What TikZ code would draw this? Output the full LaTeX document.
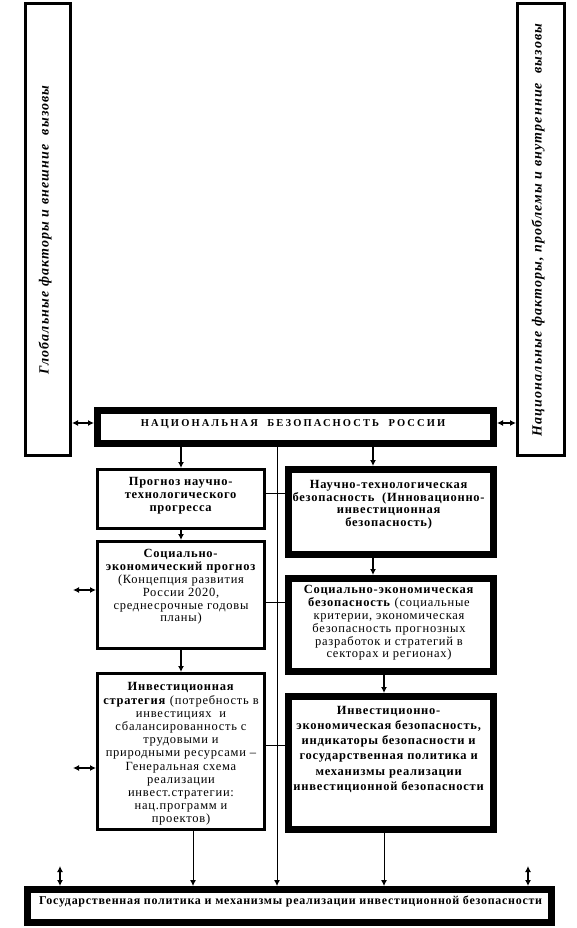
\documentclass[tikz,border=0pt]{standalone}
\usepackage{fontspec}
\setmainfont{Liberation Serif}
\newfontfamily\bfam[LetterSpace=6]{Liberation Serif}
\newfontfamily\nfam[LetterSpace=20]{Liberation Serif}
\newfontfamily\rfam[LetterSpace=8]{Liberation Serif}
\usetikzlibrary{arrows.meta}
\begin{document}
\begin{tikzpicture}[x=1pt,y=-1pt,
  thinbox/.style={draw, line width=2.7pt, inner sep=0pt, rectangle},
  thickbox/.style={draw, line width=7pt, inner sep=0pt, rectangle},
  txt/.style={align=center, inner sep=0pt, anchor=north, font=\bfam\fontsize{12.5}{12.8}\selectfont},
  rtxt/.style={rotate=90, inner sep=0pt, font=\rfam\bfseries\itshape\fontsize{14}{16}\selectfont},
  arr/.style={line width=1.5pt, -{Latex[length=6pt,width=6pt]}},
  longarr/.style={line width=0.9pt, -{Latex[length=6pt,width=6pt]}},
  darr/.style={line width=1.5pt, {Latex[length=6pt,width=6pt]}-{Latex[length=6pt,width=6pt]}},
  conn/.style={line width=0.9pt}]
\fill[white] (0,0) rectangle (577,928);
\useasboundingbox (0,0) rectangle (577,928);
% side boxes
\node[thinbox, minimum width=45.3pt, minimum height=452.3pt] (L) at (48,229.5) {};
\node[thinbox, minimum width=47.3pt, minimum height=452.3pt] (R) at (541,229.5) {};
\node[rtxt] (Lt) at (45,230) {Глобальные факторы и внешние\ \ вызовы};
\node[rtxt] (Rt) at (538,230) {Национальные факторы, проблемы и внутренние\ \ вызовы};
% national box
\node[thickbox, minimum width=396pt, minimum height=33pt] (N) at (295.5,427) {};
\node[inner sep=0pt, font=\nfam\bfseries\fontsize{10.5}{12}\selectfont] (Nt) at (293,424) {НАЦИОНАЛЬНАЯ\ \ БЕЗОПАСНОСТЬ\ \ РОССИИ};
% left boxes
\node[thinbox, minimum width=167.3pt, minimum height=59.3pt] (lb1) at (181,499) {};
\node[thinbox, minimum width=167.3pt, minimum height=107.3pt] (lb2) at (181,595) {};
\node[thinbox, minimum width=167.3pt, minimum height=156.3pt] (lb3) at (181,751.5) {};
% right boxes
\node[thickbox, minimum width=205pt, minimum height=85pt] (rb1) at (391,512) {};
\node[thickbox, minimum width=205pt, minimum height=93pt] (rb2) at (391,625) {};
\node[thickbox, minimum width=205pt, minimum height=133pt] (rb3) at (391,763) {};
% bottom box
\node[thickbox, minimum width=524pt, minimum height=33pt] (B) at (289.5,906) {};
% texts
\node[txt] (lb1t) at (181,477.5) {\textbf{Прогноз научно-}\\\textbf{технологического}\\\textbf{прогресса}};
\node[txt] (lb2t) at (181,549.5) {\textbf{Социально-}\\\textbf{экономический прогноз}\\(Концепция развития\\России 2020,\\среднесрочные годовы\\планы)};
\node[txt, font=\bfam\fontsize{12.5}{13.2}\selectfont] (lb3t) at (181,682.5) {\textbf{Инвестиционная}\\\textbf{стратегия} (потребность в\\инвестициях\ \ и\\сбалансированность с\\трудовыми и\\природными ресурсами –\\Генеральная схема\\реализации\\инвест.стратегии:\\нац.программ и\\проектов)};
\node[txt] (rb1t) at (389,480) {\textbf{Научно-технологическая}\\\textbf{безопасность\ \ (Инновационно-}\\\textbf{инвестиционная}\\\textbf{безопасность)}};
\node[txt] (rb2t) at (389,585.5) {\textbf{Социально-экономическая}\\\textbf{безопасность} (социальные\\критерии, экономическая\\безопасность прогнозных\\разработок и стратегий в\\секторах и регионах)};
\node[txt, font=\bfam\fontsize{12.5}{15.2}\selectfont] (rb3t) at (389,706) {\textbf{Инвестиционно-}\\\textbf{экономическая безопасность,}\\\textbf{индикаторы безопасности и}\\\textbf{государственная политика и}\\\textbf{механизмы реализации}\\\textbf{инвестиционной безопасности}};
\node[txt, anchor=center, font=\bfam\fontsize{12}{13}\selectfont] (Bt) at (291,901) {\textbf{Государственная политика и механизмы реализации инвестиционной безопасности}};
% arrows
\draw[arr] (N.south -| lb1.north) -- (lb1.north);
\draw[arr] (N.south -| 373,0) -- (rb1.north -| 373,0);
\draw[arr] (lb1.south) -- (lb2.north);
\draw[arr] (lb2.south) -- (lb3.north);
\draw[arr] (rb1.south -| 373,0) -- (rb2.north -| 373,0);
\draw[arr] (rb2.south -| 384,0) -- (rb3.north -| 384,0);
\draw[longarr] (lb3.south -| 193,0) -- (B.north -| 193,0);
\draw[longarr] (N.south -| 277,0) -- (B.north -| 277,0);
\draw[longarr] (rb3.south -| 384,0) -- (B.north -| 384,0);
% horizontal connectors
\draw[conn] (lb1.east |- 0,493) -- (rb1.west |- 0,493);
\draw[conn] (lb2.east |- 0,602) -- (rb2.west |- 0,602);
\draw[conn] (lb3.east |- 0,745) -- (rb3.west |- 0,745);
% double arrows
\draw[darr] (L.east |- 0,423) -- (N.west |- 0,423);
\draw[darr] (N.east |- 0,423) -- (R.west |- 0,423);
\coordinate (f1) at (73,590);
\coordinate (f2) at (73,768);
\coordinate (f3) at (60,866);
\coordinate (f4) at (528,866);
\draw[darr] (f1) -- (lb2.west |- f1);
\draw[darr] (f2) -- (lb3.west |- f2);
\draw[darr] (f3) -- (B.north -| f3);
\draw[darr] (f4) -- (B.north -| f4);
\end{tikzpicture}
\end{document}
